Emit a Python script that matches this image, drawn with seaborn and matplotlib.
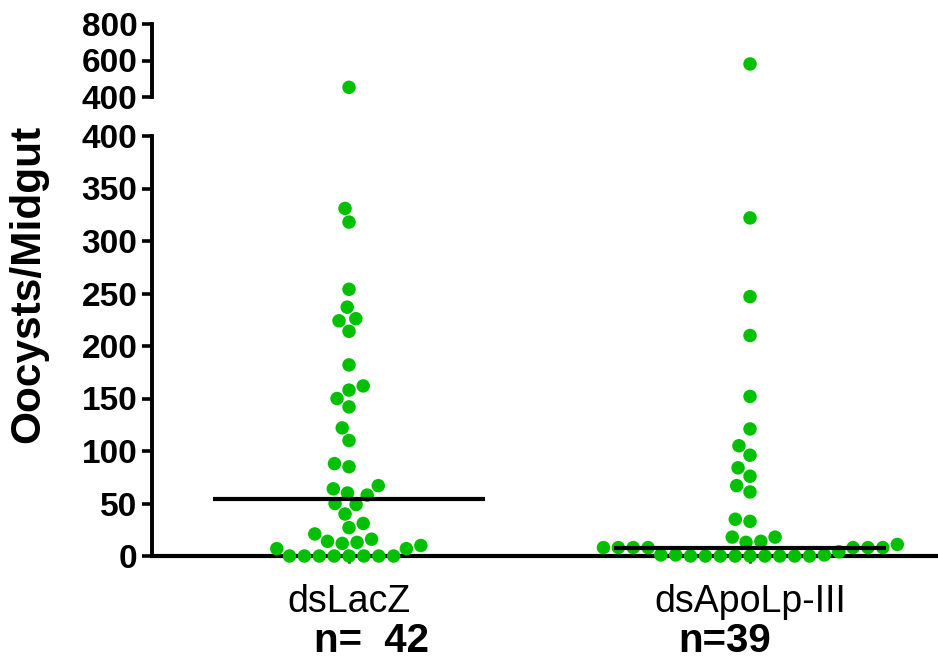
import numpy as np
import pandas as pd
import matplotlib
matplotlib.use("Agg")
import matplotlib.pyplot as plt
import seaborn as sns

# ---- data ----
groups = ["dsLacZ", "dsApoLp-III"]
n_labels = ["n=  42", "n=39"]
ds_lacz = [453, 331, 318, 254, 237, 226, 224, 214, 182, 162, 158, 150, 142,
           122, 110, 88, 85, 67, 64, 60, 58, 50, 49, 40, 31, 27, 21, 16, 13,
           14, 10, 7, 12, 7, 0, 0, 0, 0, 0, 0, 0, 0]
ds_apolp = [581, 322, 247, 210, 152, 121, 105, 96, 84, 76, 67, 61, 35, 33,
            18, 14, 11, 8, 8, 8, 8, 8, 8, 8, 13, 18,
            4, 1, 1, 1, 0, 0, 0, 0, 0, 0, 0, 0, 0]
y_label = "Oocysts/Midgut"
lower_ticks = [0, 50, 100, 150, 200, 250, 300, 350, 400]
upper_ticks = [400, 600, 800]
lower_lim = (0, 400)
upper_lim = (400, 800)

sns.set_style("ticks")
plt.rcParams["font.family"] = ["Liberation Sans", "DejaVu Sans"]
plt.rcParams.update({
    "text.color": "black",
    "axes.edgecolor": "black",
    "axes.labelcolor": "black",
    "xtick.color": "black",
    "ytick.color": "black",
})

df = pd.DataFrame({
    "group": [groups[0]] * len(ds_lacz) + [groups[1]] * len(ds_apolp),
    "value": ds_lacz + ds_apolp,
})

W, H = 938, 663
fig = plt.figure(figsize=(W / 100, H / 100), dpi=100)


def fx(px):
    return px / W


def fy(py):
    return 1 - py / H


ax_lo = fig.add_axes([fx(152), fy(556), fx(938) - fx(152), fy(136) - fy(556)])
ax_hi = fig.add_axes([fx(152), fy(97), fx(938) - fx(152), fy(24) - fy(97)])

green = "#00C000"
dot = 9.7
lo = df[df["value"] <= lower_lim[1]]
hi = df[df["value"] > upper_lim[0]]

sns.swarmplot(data=lo, x="group", y="value", order=groups, color=green,
              size=dot, linewidth=0.5, edgecolor="none", ax=ax_lo,
              clip_on=False, zorder=3, warn_thresh=1)
sns.swarmplot(data=hi, x="group", y="value", order=groups, color=green,
              size=dot, linewidth=0.5, edgecolor="none", ax=ax_hi,
              clip_on=False, zorder=3)

for i, vals in enumerate([ds_lacz, ds_apolp]):
    med = np.median(vals)
    ax_lo.hlines(med, i - 0.338, i + 0.338, color="black", lw=3, zorder=5)

xl = (-0.4913, 1.4688)
for ax in (ax_lo, ax_hi):
    ax.set_xlim(*xl)
    ax.set_xlabel("")
    ax.set_ylabel("")
    ax.spines["top"].set_visible(False)
    ax.spines["right"].set_visible(False)
    ax.spines["left"].set_linewidth(2.8)
    ax.tick_params(axis="y", length=7.5, width=2.6, pad=3, labelsize=24,
                   colors="black")

ax_lo.set_ylim(*lower_lim)
ax_lo.set_yticks(lower_ticks)
ax_lo.spines["bottom"].set_linewidth(3)
ax_lo.tick_params(axis="x", length=5, width=2, pad=15, labelsize=27,
                  colors="black")
ax_lo.set_xticks(range(len(groups)))
ax_lo.set_xticklabels(groups)

ax_hi.set_ylim(*upper_lim)
ax_hi.set_yticks(upper_ticks)
ax_hi.spines["bottom"].set_visible(False)
ax_hi.set_xticks([])

for ax in (ax_lo, ax_hi):
    plt.setp(ax.get_yticklabels(), fontweight="bold")

fig.text(fx(28), fy(284), y_label, rotation=90, ha="center", va="center",
         fontsize=30.5, fontweight="bold")
for xpx, lab in zip([371, 725], n_labels):
    fig.text(fx(xpx), fy(652), lab, ha="center", va="baseline",
             fontsize=29, fontweight="bold")

fig.savefig("out.png", dpi=100, facecolor="white")
